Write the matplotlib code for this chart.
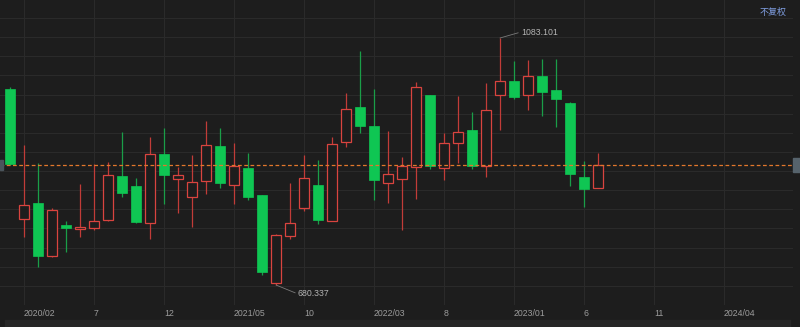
import matplotlib
matplotlib.use("Agg")
import matplotlib.pyplot as plt
from matplotlib.patches import Rectangle
import numpy as np

# monthly candles, 2020/01 .. 2023/07
opens = [999.9, 788.0, 814.1, 727.6, 778.2, 771.7, 773.3, 786.3, 858.1, 841.8,
         781.4, 894.0, 853.2, 823.8, 849.9, 907.0, 843.4, 871.1, 827.1, 683.6,
         760.2, 805.9, 843.4, 784.7, 913.5, 970.6, 939.6, 846.7, 853.2, 872.8,
         990.2, 871.1, 911.9, 933.1, 874.4, 990.2, 1013.0, 990.2, 1021.1, 998.3,
         977.1, 856.4, 838.5]
closes = [877.6, 810.8, 727.6, 802.6, 773.3, 774.9, 784.7, 859.7, 830.4, 783.1,
          894.0, 859.7, 859.7, 848.3, 908.6, 846.7, 874.4, 823.8, 701.5, 761.9,
          781.4, 854.8, 786.3, 910.3, 967.3, 939.6, 851.6, 861.3, 874.4, 1003.2,
          874.4, 911.9, 929.8, 874.4, 965.7, 1013.0, 986.9, 1021.1, 995.0, 983.6,
          861.3, 836.9, 876.0]
highs = [1003.2, 908.6, 879.3, 805.9, 784.7, 845.0, 877.6, 880.9, 929.8, 854.8,
         921.7, 936.3, 872.8, 892.3, 947.8, 936.3, 911.9, 895.6, 827.1, 763.5,
         846.7, 892.3, 884.2, 921.7, 993.4, 1061.9, 999.9, 931.5, 889.1, 1011.4,
         990.2, 928.2, 988.5, 962.4, 1009.7, 1083.101, 1045.6, 1047.2, 1048.9, 1048.9,
         978.7, 882.5, 895.6]
lows = [876.5, 758.6, 709.7, 726.0, 734.2, 758.6, 770.0, 785.0, 823.8, 781.4,
        755.3, 812.4, 797.7, 774.9, 828.7, 838.5, 812.4, 818.9, 696.6, 680.337,
        755.3, 801.0, 779.8, 784.7, 905.4, 928.2, 818.9, 814.1, 770.0, 820.6,
        869.5, 851.6, 879.3, 869.5, 856.4, 933.1, 983.6, 965.7, 955.9, 938.0,
        841.8, 807.5, 838.5]

tick_pos = [1, 6, 11, 16, 21, 26, 31, 36, 41, 46, 51]
tick_labels = ["2020/02", "7", "12", "2021/05", "10", "2022/03", "8",
               "2023/01", "6", "11", "2024/04"]
max_text = "1083.101"
min_text = "680.337"
adj_text = "不复权"

BG = "#1d1d1d"
GRID = "#2a2a2a"
UP = "#d9443f"
UP_WICK = "#c23c38"
DOWN = "#0fc653"
DOWN_WICK = "#1a9e48"
TXT = "#9c9c9c"

fig = plt.figure(figsize=(8, 3.27), dpi=100, facecolor=BG)
ax = fig.add_axes([0, 22 / 327, 793 / 800, 305 / 327])
ax.set_facecolor(BG)

# price scale: high sits 38 px below top, low 20 px above bottom
hi, lo = max(highs), min(lows)
per_px = (hi - lo) / 247
ax.set_ylim(lo - 20 * per_px, hi + 38 * per_px)
ax.set_xlim(-10 / 14, 783 / 14)

grid_y = hi + (38 - np.arange(18, 306, 19.13)) * per_px
ax.set_yticks(grid_y)
ax.set_xticks(tick_pos)
ax.set_xticklabels(tick_labels, ha="left", color=TXT, fontsize=6.3,
                   family=["Liberation Sans", "DejaVu Sans"])
ax.tick_params(axis="x", length=0, pad=3)
ax.tick_params(axis="y", length=0, labelleft=False)
ax.grid(True, color=GRID, lw=0.8)
ax.axvline(783 / 14, color=GRID, lw=0.8)
for s in ax.spines.values():
    s.set_visible(False)

w = 0.78
for i, (o, c, h, l) in enumerate(zip(opens, closes, highs, lows)):
    up = c >= o
    ax.vlines(i, l, h, color=UP_WICK if up else DOWN_WICK, lw=0.9, zorder=2)
    bottom = min(o, c)
    height = max(abs(c - o), 1.2)
    if up:
        ax.add_patch(Rectangle((i - w / 2, bottom), w, height, facecolor=BG,
                               edgecolor=UP, lw=0.9, zorder=3))
    else:
        ax.add_patch(Rectangle((i - w / 2, bottom), w, height, facecolor=DOWN,
                               edgecolor=DOWN, lw=0.5, zorder=3))

ax.axhline(closes[-1], color="#e2772c", lw=0.9, ls=(0, (3, 2)), zorder=4)

imax = highs.index(hi)
imin = lows.index(lo)
ax.annotate(max_text, xy=(imax, hi), xytext=(21, 6), textcoords="offset pixels",
            ha="left", va="center", color="#b4b4b4", fontsize=6.3,
            family=["Liberation Sans", "DejaVu Sans"],
            arrowprops=dict(arrowstyle="-", color="#7a7a7a", lw=0.6,
                            shrinkA=0, shrinkB=0, relpos=(0, 0.5)))
ax.annotate(min_text, xy=(imin, lo), xytext=(22, -9), textcoords="offset pixels",
            ha="left", va="center", color="#b4b4b4", fontsize=6.3,
            family=["Liberation Sans", "DejaVu Sans"],
            arrowprops=dict(arrowstyle="-", color="#7a7a7a", lw=0.6,
                            shrinkA=0, shrinkB=0, relpos=(0, 0.5)))

fig.text(773 / 800, 1 - 12 / 327, adj_text, ha="center", va="center",
         color="#7f9de0", fontsize=6.5, family=["Noto Sans CJK SC", "DejaVu Sans"])

# price markers at both edges and the bottom scroll strip
fig.patches.append(Rectangle((793 / 800, (327 - 172) / 327), 7 / 800, 14 / 327,
                             transform=fig.transFigure, color="#56636c", zorder=5))
fig.patches.append(Rectangle((0, (327 - 170) / 327), 3 / 800, 10 / 327,
                             transform=fig.transFigure, color="#4a545c", zorder=5))
fig.patches.append(Rectangle((5 / 800, 0), 785 / 800, 7 / 327,
                             transform=fig.transFigure, color="#272727", zorder=1))

fig.savefig("out.png", dpi=100, facecolor=BG)
